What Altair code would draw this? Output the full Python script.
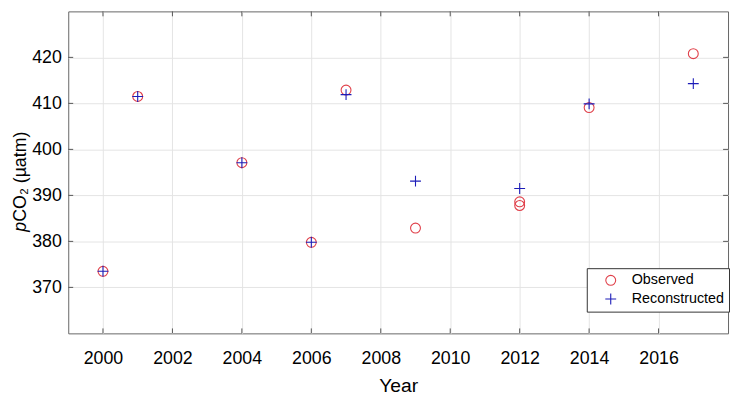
import altair as alt
import pandas as pd

# Data
obs_years = [2000, 2001, 2004, 2006, 2007, 2009, 2012, 2012, 2014, 2017]
obs_vals = [373.5, 411.5, 397.1, 379.8, 412.9, 382.9, 388.6, 387.8, 409.1, 420.8]
rec_years = [2000, 2001, 2004, 2006, 2007, 2009, 2012, 2014, 2017]
rec_vals = [373.5, 411.5, 397.1, 379.8, 411.9, 393.1, 391.5, 409.9, 414.3]
series_names = ["Observed", "Reconstructed"]
x_ticks = [2000, 2002, 2004, 2006, 2008, 2010, 2012, 2014, 2016]
y_ticks = [370, 380, 390, 400, 410, 420]
y_title_italic = ["p"]
y_title_rest = ["CO₂ (µatm)"]

W, H = 668, 326
FONT = "Liberation Sans"

df = pd.concat([
    pd.DataFrame({"year": obs_years, "pco2": obs_vals, "series": series_names[0]}),
    pd.DataFrame({"year": rec_years, "pco2": rec_vals, "series": series_names[1]}),
], ignore_index=True)

xt = pd.DataFrame({"year": x_ticks})
yt = pd.DataFrame({"pco2": y_ticks})

xscale = alt.Scale(domain=[1999, 2018], nice=False, zero=False)
yscale = alt.Scale(domain=[360, 430], nice=False, zero=False)
xaxis = alt.Axis(values=x_ticks, format="d", title="Year", grid=True)
yaxis = alt.Axis(values=y_ticks, format="d", title=None, grid=True)

points = alt.Chart(df).mark_point(filled=False, strokeWidth=1.1, size=100, opacity=1).encode(
    x=alt.X("year:Q", scale=xscale, axis=xaxis),
    y=alt.Y("pco2:Q", scale=yscale, axis=yaxis),
    color=alt.Color("series:N",
                    scale=alt.Scale(domain=series_names, range=["#e0404a", "#1c1cb8"]),
                    legend=alt.Legend(title=None, orient="none", legendX=525, legendY=260)),
    shape=alt.Shape("series:N",
                    scale=alt.Scale(domain=series_names,
                                    range=["circle", "M-1.1,0L1.1,0M0,-1.1L0,1.1"]),
                    legend=alt.Legend(title=None, orient="none", legendX=525, legendY=260)),
)

tick_color = "#555555"
xt_bottom = alt.Chart(xt).mark_rule(color=tick_color).encode(
    x=alt.X("year:Q", scale=xscale, axis=xaxis), y=alt.value(H), y2=alt.value(H - 5))
xt_top = alt.Chart(xt).mark_rule(color=tick_color).encode(
    x=alt.X("year:Q", scale=xscale, axis=xaxis), y=alt.value(0), y2=alt.value(5))
yt_left = alt.Chart(yt).mark_rule(color=tick_color).encode(
    y=alt.Y("pco2:Q", scale=yscale, axis=yaxis), x=alt.value(0), x2=alt.value(5))
yt_right = alt.Chart(yt).mark_rule(color=tick_color).encode(
    y=alt.Y("pco2:Q", scale=yscale, axis=yaxis), x=alt.value(W - 5), x2=alt.value(W))

TX, TY = -43, 213
title_p = alt.Chart(pd.DataFrame({"t": y_title_italic})).mark_text(
    font=FONT, fontSize=18, fontStyle="italic", angle=270, align="right",
    baseline="alphabetic", color="#000000",
).encode(text="t:N", x=alt.value(TX), y=alt.value(TY))
title_rest = alt.Chart(pd.DataFrame({"t": y_title_rest})).mark_text(
    font=FONT, fontSize=18, angle=270, align="left",
    baseline="alphabetic", color="#000000",
).encode(text="t:N", x=alt.value(TX), y=alt.value(TY))

chart = alt.layer(points, xt_bottom, xt_top, yt_left, yt_right, title_p, title_rest).properties(
    width=W, height=H, padding={"left": 4, "top": 0, "right": 0, "bottom": 0},
).configure_view(
    stroke="#666666", strokeWidth=1
).configure_axis(
    domain=False, ticks=False, grid=True, gridColor="#e4e4e4", gridWidth=1,
    labelFont=FONT, labelFontSize=18, labelColor="#000000",
    titleFont=FONT, titleFontSize=19.5, titleColor="#000000", titleFontWeight="normal",
).configure_axisX(
    labelPadding=17, titlePadding=9,
).configure_axisY(
    labelPadding=7,
).configure_legend(
    strokeColor="#333333", fillColor="#ffffff", padding=5, cornerRadius=0,
    labelFont=FONT, labelFontSize=14.5, labelColor="#000000",
    symbolStrokeWidth=1.1, symbolSize=100, rowPadding=3, labelOffset=14,
    symbolOffset=12, symbolFillColor="transparent",
)

chart.save("out.html", embed_options={"renderer": "svg", "actions": False})
